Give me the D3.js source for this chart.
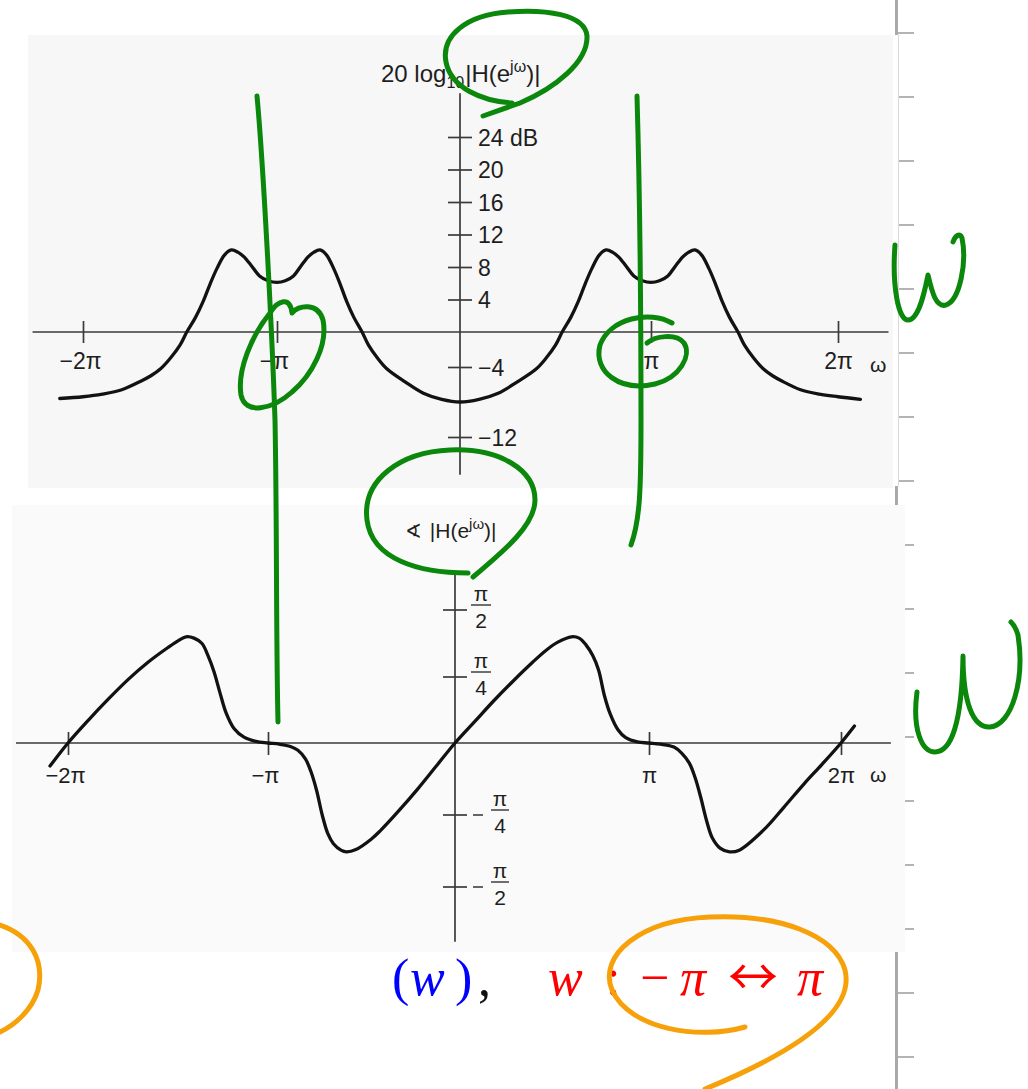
<!DOCTYPE html>
<html>
<head>
<meta charset="utf-8">
<script src="https://cdn.jsdelivr.net/npm/d3@7"></script>
<style>
  html, body { margin: 0; padding: 0; background: #ffffff; }
  svg { display: block; }
</style>
</head>
<body>
<svg id="fig" width="1028" height="1089"></svg>
<script>
// ---- magnitude response, 20 log10 |H(e^jw)|; frequency in units of pi ----
const omegaMag = [
  -2.12, -2.0, -1.9, -1.8, -1.7, -1.65, -1.6, -1.55, -1.5, -1.465, -1.42, -1.38, -1.345, -1.31,
  -1.27, -1.235, -1.2, -1.17, -1.13, -1.09, -1.045, -1.0, -0.955, -0.91, -0.87, -0.83, -0.8,
  -0.765, -0.73, -0.69, -0.655, -0.62, -0.58, -0.535, -0.5, -0.45, -0.4, -0.3, -0.2, -0.1, 0,
  0.1, 0.2, 0.3, 0.4, 0.45, 0.5, 0.535, 0.58, 0.62, 0.655, 0.69, 0.73, 0.765, 0.8, 0.83, 0.87,
  0.91, 0.955, 1.0, 1.045, 1.09, 1.13, 1.17, 1.2, 1.235, 1.27, 1.31, 1.345, 1.38, 1.42, 1.465,
  1.5, 1.55, 1.6, 1.65, 1.7, 1.8, 1.9, 2.0, 2.12
];
const magDb = [
  -7.6, -7.4, -7.1, -6.6, -5.6, -5.0, -4.2, -3.0, -1.5, 0, 1.8, 3.8, 5.9, 7.8,
  9.5, 10.1, 9.8, 9.25, 8.1, 6.9, 6.3, 6.1, 6.3, 6.9, 8.1, 9.25, 9.8,
  10.1, 9.5, 7.8, 5.9, 3.8, 1.8, 0, -1.5, -3.0, -4.2, -5.7, -7.0, -7.7, -8.0,
  -7.7, -7.0, -5.7, -4.2, -3.0, -1.5, 0, 1.8, 3.8, 5.9, 7.8, 9.5, 10.1, 9.8, 9.25, 8.1,
  6.9, 6.3, 6.1, 6.3, 6.9, 8.1, 9.25, 9.8, 10.1, 9.5, 7.8, 5.9, 3.8, 1.8, 0,
  -1.5, -3.0, -4.2, -5.0, -5.6, -6.6, -7.1, -7.4, -7.7
];

// ---- phase response; frequency and phase both in units of pi ----
const omegaPhase = [
  -2.09, -2.0, -1.9, -1.8, -1.7, -1.6, -1.5, -1.45, -1.41, -1.37, -1.33, -1.30, -1.27, -1.24,
  -1.21, -1.17, -1.12, -1.06, -1.0, -0.94, -0.88, -0.84, -0.80, -0.77, -0.74, -0.71, -0.68,
  -0.65, -0.61, -0.58, -0.53, -0.45, -0.4, -0.3, -0.2, -0.1, 0,
  0.1, 0.2, 0.3, 0.4, 0.47, 0.53, 0.6, 0.64, 0.675, 0.71, 0.74, 0.77, 0.80, 0.84, 0.88, 0.94,
  1.0, 1.06, 1.13, 1.17, 1.21, 1.24, 1.27, 1.30, 1.33, 1.37, 1.42, 1.47, 1.6, 1.7, 1.81, 1.9,
  2.0, 2.07
];
const phasePi = [
  -0.08, 0, 0.085, 0.165, 0.24, 0.305, 0.36, 0.385, 0.40, 0.395, 0.375, 0.33, 0.27, 0.19,
  0.115, 0.055, 0.022, 0.006, 0, -0.004, -0.012, -0.025, -0.055, -0.10, -0.165, -0.25, -0.315,
  -0.35, -0.372, -0.378, -0.37, -0.335, -0.305, -0.235, -0.16, -0.08, 0,
  0.08, 0.16, 0.235, 0.305, 0.35, 0.38, 0.40, 0.395, 0.37, 0.33, 0.276, 0.18, 0.11, 0.05, 0.02, 0.004,
  0, -0.004, -0.014, -0.035, -0.07, -0.12, -0.19, -0.27, -0.33, -0.365, -0.378, -0.372, -0.30, -0.225, -0.14, -0.075,
  0, 0.064
];

// ---- tick values and labels ----
const xTicks = [-2, -1, 1, 2];
const xTickLabels = ["\u22122\u03c0", "\u2212\u03c0", "\u03c0", "2\u03c0"];
const dbTicks = [24, 20, 16, 12, 8, 4, -4, -12];
const dbTickLabels = ["24 dB", "20", "16", "12", "8", "4", "\u22124", "\u221212"];
const phaseTicks = [0.5, 0.25, -0.25, -0.5];
const phaseTickDen = ["2", "4", "4", "2"];

const SANS = "'Liberation Sans', Arial, Helvetica, sans-serif";
const INK = "#121212";
const AXIS = "#3a3a3a";
const LABEL = "#1e1e1e";

const svg = d3.select("#fig");

// ---- page ruler along the right margin ----
const ruler = svg.append("g");
ruler.selectAll("line.rt").data(d3.range(33, 1089, 64)).join("line")
  .attr("class", "rt")
  .attr("x1", 898).attr("x2", 914).attr("y1", d => d).attr("y2", d => d)
  .attr("stroke", "#b4b4b4").attr("stroke-width", 2);
[[0, 35], [486, 505], [952, 1089]].forEach(([a, b]) => {
  ruler.append("line").attr("x1", 896.5).attr("x2", 896.5).attr("y1", a).attr("y2", b)
    .attr("stroke", "#a9a9a9").attr("stroke-width", 3);
});
ruler.append("line").attr("x1", 898.5).attr("x2", 898.5).attr("y1", 35).attr("y2", 486)
  .attr("stroke", "#d8d8d8").attr("stroke-width", 1);

// ---- page backgrounds of the two plots ----
svg.append("rect").attr("x", 28).attr("y", 35).attr("width", 865).attr("height", 453).attr("fill", "#f7f7f7");
svg.append("rect").attr("x", 12).attr("y", 505).attr("width", 893).attr("height", 447).attr("fill", "#fafafa");

// =================== magnitude plot ===================
const xTop = d3.scaleLinear().domain([-2, -1, 0, 1, 2]).range([83, 277, 460, 651, 838]);
const yDb = d3.scaleLinear().domain([-12, -4, 0, 24]).range([437, 367, 332, 137]);

const gTop = svg.append("g");
gTop.append("line")
  .attr("x1", xTop(-2.26)).attr("x2", xTop(2.27)).attr("y1", yDb(0)).attr("y2", yDb(0))
  .attr("stroke", AXIS).attr("stroke-width", 1.7);
gTop.append("line")
  .attr("x1", xTop(0)).attr("x2", xTop(0)).attr("y1", yDb(29.4)).attr("y2", yDb(-16.3))
  .attr("stroke", AXIS).attr("stroke-width", 1.7);

const gxTop = gTop.append("g")
  .attr("transform", `translate(0,${yDb(0)})`)
  .call(d3.axisBottom(xTop).tickValues(xTicks).tickFormat((d, i) => xTickLabels[i]).tickSize(11).tickPadding(10));
gxTop.select(".domain").remove();
gxTop.attr("font-family", SANS).attr("font-size", 23);
gxTop.selectAll(".tick line").attr("y1", -11).attr("stroke", AXIS).attr("stroke-width", 1.7);
gxTop.selectAll(".tick text").attr("fill", LABEL).attr("dx", d => d < 0 ? -3 : 0);

const gyTop = gTop.append("g")
  .attr("transform", `translate(${xTop(0)},0)`)
  .call(d3.axisRight(yDb).tickValues(dbTicks).tickFormat((d, i) => dbTickLabels[i]).tickSize(12).tickPadding(6));
gyTop.select(".domain").remove();
gyTop.attr("font-family", SANS).attr("font-size", 23);
gyTop.selectAll(".tick line").attr("x1", -12).attr("stroke", AXIS).attr("stroke-width", 1.7);
gyTop.selectAll(".tick text").attr("fill", LABEL).attr("dy", "0.36em");

gTop.append("text")
  .attr("x", 870).attr("y", 372)
  .attr("font-family", SANS).attr("font-size", 21).attr("fill", LABEL)
  .text("\u03c9");

const tTop = gTop.append("text")
  .attr("x", 381).attr("y", 82)
  .attr("font-family", SANS).attr("font-size", 24).attr("fill", LABEL);
tTop.append("tspan").text("20 log");
tTop.append("tspan").attr("font-size", 16).attr("dy", 6).text("10");
tTop.append("tspan").attr("dy", -6).attr("dx", 1).text("|H(e");
tTop.append("tspan").attr("font-size", 16).attr("dy", -10).text("j\u03c9");
tTop.append("tspan").attr("dy", 10).text(")|");

const magLine = d3.line()
  .x(d => xTop(d[0])).y(d => yDb(d[1]))
  .curve(d3.curveCatmullRom.alpha(0.5));
gTop.append("path")
  .datum(omegaMag.map((w, i) => [w, magDb[i]]))
  .attr("d", magLine)
  .attr("fill", "none").attr("stroke", INK).attr("stroke-width", 3.3)
  .attr("stroke-linejoin", "round").attr("stroke-linecap", "round");

// =================== phase plot ===================
const xBot = d3.scaleLinear().domain([-2, -1, 0, 1, 2]).range([68, 268, 455, 649, 841]);
const yPh = d3.scaleLinear().domain([-0.5, -0.25, 0, 0.25, 0.5]).range([887, 815, 743, 677, 610]);

const gBot = svg.append("g");
gBot.append("line")
  .attr("x1", xBot(-2.26)).attr("x2", xBot(2.26)).attr("y1", yPh(0)).attr("y2", yPh(0))
  .attr("stroke", AXIS).attr("stroke-width", 1.7);
gBot.append("line")
  .attr("x1", xBot(0)).attr("x2", xBot(0)).attr("y1", yPh(0.645)).attr("y2", yPh(-0.69))
  .attr("stroke", AXIS).attr("stroke-width", 1.7);

const gxBot = gBot.append("g")
  .attr("transform", `translate(0,${yPh(0)})`)
  .call(d3.axisBottom(xBot).tickValues(xTicks).tickFormat((d, i) => xTickLabels[i]).tickSize(12).tickPadding(12));
gxBot.select(".domain").remove();
gxBot.attr("font-family", SANS).attr("font-size", 22);
gxBot.selectAll(".tick line").attr("y1", -11).attr("stroke", AXIS).attr("stroke-width", 1.7);
gxBot.selectAll(".tick text").attr("fill", LABEL).attr("dx", d => d < 0 ? -3 : 0);

gBot.append("text")
  .attr("x", 870).attr("y", 782)
  .attr("font-family", SANS).attr("font-size", 21).attr("fill", LABEL)
  .text("\u03c9");

// phase ticks with stacked fraction labels
const ph = gBot.selectAll("g.ph").data(phaseTicks).join("g")
  .attr("class", "ph")
  .attr("transform", d => `translate(${xBot(0)},${yPh(d)})`)
  .attr("font-family", SANS).attr("font-size", 21).attr("fill", LABEL);
ph.append("line").attr("x1", -12).attr("x2", 12).attr("y1", 0).attr("y2", 0)
  .attr("stroke", AXIS).attr("stroke-width", 1.7);
ph.filter(d => d < 0).append("line")
  .attr("x1", 18).attr("x2", 28).attr("y1", 0).attr("y2", 0)
  .attr("stroke", "#333").attr("stroke-width", 1.5);
ph.append("line")
  .attr("x1", d => d < 0 ? 36 : 16).attr("x2", d => d < 0 ? 54 : 36)
  .attr("y1", -5).attr("y2", -5)
  .attr("stroke", "#333").attr("stroke-width", 1.4);
ph.append("text")
  .attr("x", d => d < 0 ? 45 : 26).attr("y", -9)
  .attr("text-anchor", "middle")
  .text("\u03c0");
ph.append("text")
  .attr("x", d => d < 0 ? 45 : 26).attr("y", 18)
  .attr("text-anchor", "middle")
  .text((d, i) => phaseTickDen[i]);

const tBot = gBot.append("text")
  .attr("x", 405).attr("y", 538)
  .attr("font-family", SANS).attr("font-size", 21).attr("fill", LABEL);
tBot.append("tspan").attr("font-family", "'DejaVu Sans', sans-serif").attr("font-size", 20).text("\u2222");
tBot.append("tspan").attr("dx", 8).text("|H(e");
tBot.append("tspan").attr("font-size", 15).attr("dy", -9).text("j\u03c9");
tBot.append("tspan").attr("dy", 9).text(")|");

const phLine = d3.line()
  .x(d => xBot(d[0])).y(d => yPh(d[1]))
  .curve(d3.curveCatmullRom.alpha(0.5));
gBot.append("path")
  .datum(omegaPhase.map((w, i) => [w, phasePi[i]]))
  .attr("d", phLine)
  .attr("fill", "none").attr("stroke", INK).attr("stroke-width", 3.3)
  .attr("stroke-linejoin", "round").attr("stroke-linecap", "round");

// =================== formula line under the plots ===================
const SERIF = "'Liberation Serif', 'Times New Roman', serif";
const formula = svg.append("g").attr("font-family", SERIF).attr("font-size", 52);
const pieces = [
  { t: "(", x: 392, c: "#0000ff", it: false },
  { t: "w", x: 410, c: "#0000ff", it: true },
  { t: ")", x: 455, c: "#0000ff", it: false },
  { t: ",", x: 478, c: "#111111", it: false },
  { t: "w", x: 548, c: "#ff0000", it: true },
  { t: ":", x: 606, c: "#ff0000", it: false },
  { t: "\u2212", x: 640, c: "#ff0000", it: false },
  { t: "\u03c0", x: 680, c: "#ff0000", it: true },
  { t: "\u2194", x: 728, c: "#ff0000", it: false, f: "'Noto Sans CJK SC', sans-serif", s: 50 },
  { t: "\u03c0", x: 797, c: "#ff0000", it: true }
];
formula.selectAll("text").data(pieces).join("text")
  .attr("x", d => d.x).attr("y", 995)
  .attr("fill", d => d.c)
  .attr("font-style", d => d.it ? "italic" : "normal")
  .attr("font-family", d => d.f || null)
  .attr("font-size", d => d.s || null)
  .text(d => d.t);

// =================== pen annotations ===================
const penStrokes = [
  { c: "#0b870b", d: "M257,96 C263,160 272,330 275,420 C277,520 276,640 278,722" },
  { c: "#0b870b", d: "M637,96 C640,200 641,330 641,420 C641,490 640,520 631,545" },
  { c: "#0b870b", d: "M483,116 L520,103 C555,88 588,62 587,36 C585,14 545,9 508,12 C466,15 441,36 446,62 C451,88 482,101 512,103" },
  { c: "#0b870b", d: "M270,313 C278,300 290,296 292,313 C298,305 318,302 323,320 C328,345 312,375 292,392 C272,410 245,415 241,395 C237,370 252,335 270,313" },
  { c: "#0b870b", d: "M672,323 C650,310 610,318 600,345 C593,372 620,392 655,384 C680,378 692,355 684,343 C676,333 655,336 647,343" },
  { c: "#0b870b", d: "M468,573 C420,573 372,560 367,520 C362,480 400,452 450,450 C500,448 535,470 535,500 C535,525 505,550 473,577" },
  { c: "#0b870b", d: "M895,245 C892,285 898,320 908,320 C919,320 925,290 928,275 C932,292 936,308 946,305 C960,300 967,262 962,238 C960,232 955,236 953,242" },
  { c: "#0b870b", d: "M917,692 C912,730 922,752 935,752 C952,752 962,720 963,656 C963,700 972,728 990,727 C1012,725 1025,680 1018,635 C1016,628 1013,624 1011,622" },
  { c: "#f7a10a", d: "M0,925 C30,935 45,960 38,990 C32,1010 15,1025 0,1032" },
  { c: "#f7a10a", d: "M745,1027 C700,1040 630,1030 612,990 C598,955 640,920 710,917 C780,914 835,935 845,970 C855,1010 800,1050 705,1089" }
];
svg.append("g").selectAll("path").data(penStrokes).join("path")
  .attr("d", d => d.d)
  .attr("fill", "none").attr("stroke", d => d.c).attr("stroke-width", 5)
  .attr("stroke-linecap", "round").attr("stroke-linejoin", "round");
</script>
</body>
</html>
